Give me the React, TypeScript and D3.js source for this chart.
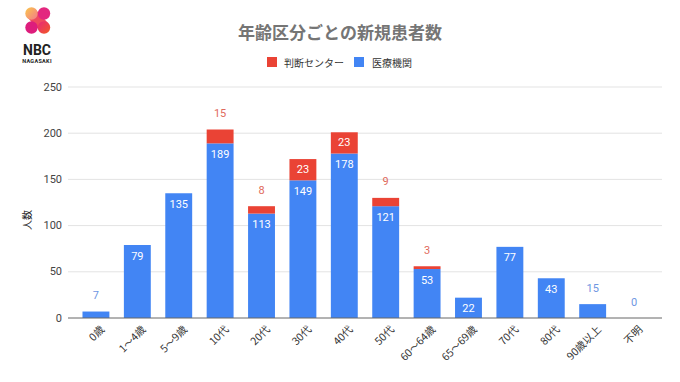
import React from "react";
import * as d3 from "d3";

const categories = ["0歳", "1〜4歳", "5〜9歳", "10代", "20代", "30代", "40代", "50代", "60〜64歳", "65〜69歳", "70代", "80代", "90歳以上", "不明"];
const hospital = [7, 79, 135, 189, 113, 149, 178, 121, 53, 22, 77, 43, 15, 0];
const center = [0, 0, 0, 15, 8, 23, 23, 9, 3, 0, 0, 0, 0, 0];
const yTicks = [0, 50, 100, 150, 200, 250];
const seriesNames = ["判断センター", "医療機関"];

const W = 680, H = 382;
const RED = "#EA4335", BLUE = "#4285F4";
const NUM_FONT = "Roboto, 'Noto Sans CJK JP', sans-serif";
const JP_FONT = "'Noto Sans CJK JP', 'Noto Sans', sans-serif";

export default function App() {
  const x = d3.scaleBand<string>().domain(categories).range([68, 662]).padding(0.35);
  const y = d3.scaleLinear().domain([0, 250]).range([318, 87]);
  const bw = x.bandwidth();

  return (
    <svg width={W} height={H} style={{ position: "absolute", left: 0, top: 0, background: "#fff" }}>
      <defs>
        <linearGradient id="lg1" x1="0" y1="0" x2="1" y2="1">
          <stop offset="0" stopColor="#fbc84a" />
          <stop offset="1" stopColor="#f27a8c" />
        </linearGradient>
        <linearGradient id="lg2" x1="0" y1="0" x2="1" y2="1">
          <stop offset="0" stopColor="#e8287a" />
          <stop offset="1" stopColor="#f25a22" />
        </linearGradient>
      </defs>
      {/* Logo */}
      <g>
        <path d="M27,17 L35,9 L48,23 L40,31 Z" fill="#ef4a5e" />
        <circle cx={31.5} cy={13.5} r={6.2} fill="url(#lg1)" />
        <circle cx={44} cy={13.5} r={6.2} fill="#e3277f" />
        <circle cx={31.5} cy={27.5} r={6.2} fill="#dd1d7c" />
        <circle cx={44} cy={27.5} r={6.2} fill="url(#lg2)" />
        <text x={37} y={55} textAnchor="middle" fontFamily="Roboto, sans-serif" fontWeight={700} fontSize={14} fill="#222">NBC</text>
        <text x={37} y={63} textAnchor="middle" fontFamily="Roboto, sans-serif" fontWeight={700} fontSize={5.5} fill="#222" letterSpacing={0.3}>NAGASAKI</text>
      </g>
      {/* Title */}
      <text x={340} y={39} textAnchor="middle" fontFamily={JP_FONT} fontWeight={700} fontSize={17} fill="#757575">年齢区分ごとの新規患者数</text>
      {/* Legend */}
      <g fontFamily={JP_FONT} fontSize={10} fill="#333">
        <rect x={267} y={57} width={10} height={10} fill={RED} />
        <text x={284} y={62} dominantBaseline="central">{seriesNames[0]}</text>
        <rect x={354} y={57} width={10} height={10} fill={BLUE} />
        <text x={372} y={62} dominantBaseline="central">{seriesNames[1]}</text>
      </g>
      {/* Grid & y ticks */}
      {yTicks.map((t) => (
        <g key={t}>
          {t > 0 && <line x1={68} x2={662} y1={y(t)} y2={y(t)} stroke="#e3e3e3" strokeWidth={1} />}
          <text x={62} y={y(t)} textAnchor="end" dominantBaseline="central" fontFamily={NUM_FONT} fontSize={11} fill="#444">{t}</text>
        </g>
      ))}
      <text transform={`translate(26,220) rotate(-90)`} textAnchor="middle" dominantBaseline="central" fontFamily={JP_FONT} fontSize={10} fill="#222">人数</text>
      {/* Bars */}
      {categories.map((c, i) => {
        const x0 = x(c)!;
        const cx = x0 + bw / 2;
        const hv = hospital[i];
        const cv = center[i];
        const yh = y(hv);
        const yt = y(hv + cv);
        const hInside = y(0) - yh >= 18;
        const cInside = yh - yt >= 18;
        return (
          <g key={c}>
            {hv > 0 && <rect x={x0} y={yh} width={bw} height={y(0) - yh} fill={BLUE} />}
            {cv > 0 && <rect x={x0} y={yt} width={bw} height={yh - yt} fill={RED} />}
            {hInside ? (
              <text x={cx} y={yh + 11} textAnchor="middle" dominantBaseline="central" fontFamily={NUM_FONT} fontSize={11} fill="#fff">{hv}</text>
            ) : (
              <text x={cx} y={yh - 16} textAnchor="middle" dominantBaseline="central" fontFamily={NUM_FONT} fontSize={11} fill="#6e96e2">{hv}</text>
            )}
            {cv > 0 && (cInside ? (
              <text x={cx} y={(yh + yt) / 2} textAnchor="middle" dominantBaseline="central" fontFamily={NUM_FONT} fontSize={11} fill="#fff">{cv}</text>
            ) : (
              <text x={cx} y={yt - 16} textAnchor="middle" dominantBaseline="central" fontFamily={NUM_FONT} fontSize={11} fill="#df6a5c">{cv}</text>
            ))}
            <text transform={`translate(${cx + 6},${327}) rotate(-45)`} textAnchor="end" dominantBaseline="central" fontFamily={JP_FONT} fontSize={10.5} fill="#333">{c}</text>
          </g>
        );
      })}
      <line x1={68} x2={662} y1={y(0)} y2={y(0)} stroke="#666" strokeWidth={1} />
    </svg>
  );
}
